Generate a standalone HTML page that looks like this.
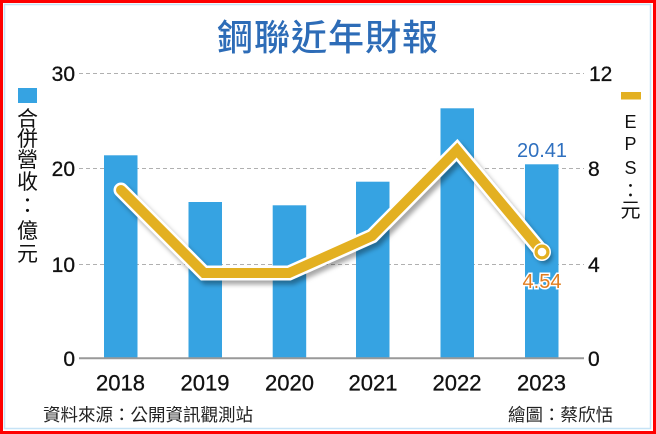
<!DOCTYPE html>
<html><head><meta charset="utf-8"><style>
html,body{margin:0;padding:0;background:#fff;}
svg{display:block;}
text{font-family:"Liberation Sans","Noto Sans CJK TC",sans-serif;}
.cjk{font-family:"Liberation Sans","Noto Sans CJK TC",sans-serif;}
</style></head><body>
<svg width="656" height="434" viewBox="0 0 656 434" xmlns="http://www.w3.org/2000/svg">
<defs>
<filter id="sh" x="-10%" y="-10%" width="130%" height="140%">
<feDropShadow dx="3" dy="4" stdDeviation="2.5" flood-color="#000" flood-opacity="0.35"/>
</filter>
</defs>
<rect x="0" y="0" width="656" height="434" fill="#fff"/>
<rect x="1.5" y="1.5" width="653" height="431" fill="none" stroke="#ff0000" stroke-width="3"/>
<rect x="4.5" y="4.5" width="646" height="424" fill="none" stroke="#c6e3f6" stroke-width="1.5"/>

<!-- title -->
<text x="328" y="50" text-anchor="middle" class="cjk" font-size="36" font-weight="500" fill="#2d6cb7" letter-spacing="1">鋼聯近年財報</text>

<!-- gridlines -->
<g stroke="#b0b0b0" stroke-width="1" stroke-dasharray="4,3">
<line x1="79" y1="73.5" x2="584" y2="73.5"/>
<line x1="79" y1="168.5" x2="584" y2="168.5"/>
<line x1="79" y1="264.5" x2="584" y2="264.5"/>
</g>

<!-- bars -->
<g fill="#36a3e2">
<rect x="104" y="155.3" width="33.5" height="202.7"/>
<rect x="188.5" y="202" width="33.5" height="156"/>
<rect x="272.7" y="205.3" width="33.5" height="152.7"/>
<rect x="356" y="181.7" width="33.5" height="176.3"/>
<rect x="440.5" y="108.3" width="33.5" height="249.7"/>
<rect x="525" y="164.3" width="33.5" height="193.7"/>
</g>

<!-- axis -->
<line x1="79" y1="358.3" x2="584" y2="358.3" stroke="#999" stroke-width="2"/>

<!-- y labels left -->
<g font-size="21" fill="#111" text-anchor="end" stroke="#111" stroke-width="0.3">
<text x="75" y="81">30</text>
<text x="75" y="176">20</text>
<text x="75" y="272">10</text>
<text x="75" y="366">0</text>
</g>
<!-- y labels right -->
<g font-size="21" fill="#111" text-anchor="start" stroke="#111" stroke-width="0.3">
<text x="589" y="81">12</text>
<text x="588" y="176">8</text>
<text x="588" y="272">4</text>
<text x="588" y="366">0</text>
</g>

<!-- x labels -->
<g font-size="22" fill="#111" text-anchor="middle" stroke="#111" stroke-width="0.3">
<text x="120.5" y="390.5">2018</text>
<text x="205" y="390.5">2019</text>
<text x="289.5" y="390.5">2020</text>
<text x="373" y="390.5">2021</text>
<text x="457" y="390.5">2022</text>
<text x="541.5" y="390.5">2023</text>
</g>

<!-- EPS line -->
<g filter="url(#sh)">
<polyline points="121,190 204,273 289,273 372,236 457,150 542,252" fill="none" stroke="#fff" stroke-width="15" stroke-linejoin="miter" stroke-linecap="round"/>
</g>
<polyline points="121,190 204,273 289,273 372,236 457,150 542,252" fill="none" stroke="#e3b021" stroke-width="10" stroke-linejoin="miter" stroke-linecap="round"/>
<circle cx="542" cy="252" r="9" fill="#fff"/>
<circle cx="542" cy="252" r="7.5" fill="#e3b021"/>
<circle cx="542" cy="252" r="4.3" fill="#fff"/>

<!-- annotations -->
<text x="542" y="157" text-anchor="middle" font-size="20" fill="#2f70bf">20.41</text>
<text x="542" y="288" text-anchor="middle" font-size="20" fill="#fff" stroke="#fff" stroke-width="3">4.54</text>
<text x="542" y="288" text-anchor="middle" font-size="20" fill="#e07d1f">4.54</text>

<!-- left legend -->
<rect x="18" y="88" width="19" height="15" fill="#36a3e2"/>
<g class="cjk" font-size="21" fill="#111" text-anchor="middle">
<text x="27.5" y="126">合</text>
<text x="27.5" y="146">併</text>
<text x="27.5" y="167">營</text>
<text x="27.5" y="189">收</text>
<text x="27.5" y="213">：</text>
<text x="27.5" y="238">億</text>
<text x="27.5" y="261">元</text>
</g>

<!-- right legend -->
<rect x="621" y="92" width="20" height="7.5" fill="#e3b021"/>
<g font-size="18" fill="#111" text-anchor="middle">
<text x="630.5" y="128">E</text>
<text x="630.5" y="150">P</text>
<text x="630.5" y="174">S</text>
</g>
<text x="630.5" y="197" class="cjk" font-size="19" fill="#111" text-anchor="middle">：</text>
<text x="630.5" y="217" class="cjk" font-size="20" fill="#111" text-anchor="middle">元</text>

<!-- footer -->
<text x="43" y="421" class="cjk" font-size="17.5" fill="#222">資料來源：公開資訊觀測站</text>
<text x="613" y="421" class="cjk" font-size="17.5" fill="#222" text-anchor="end">繪圖：蔡欣恬</text>
</svg>
</body></html>
